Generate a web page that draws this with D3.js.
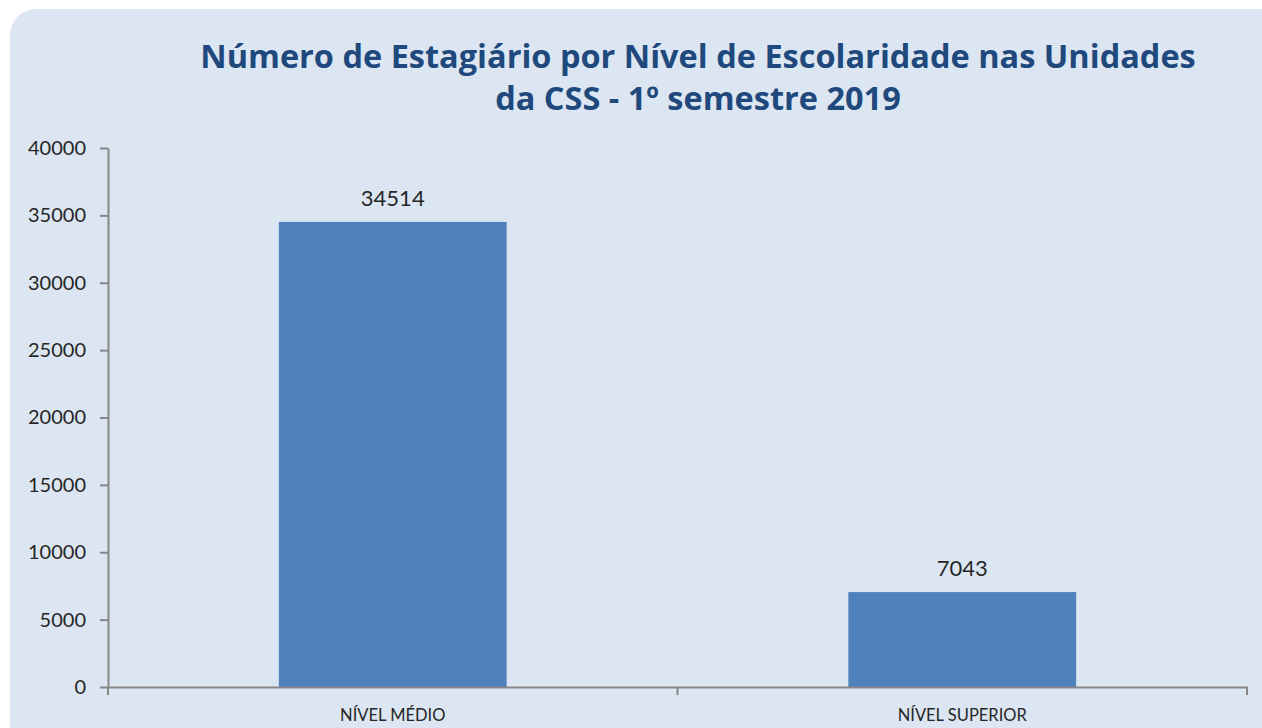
<!DOCTYPE html>
<html>
<head>
<meta charset="utf-8">
<script src="https://cdn.jsdelivr.net/npm/d3@7"></script>
<style>
  html, body { margin: 0; padding: 0; background: #ffffff; }
  svg { display: block; }
</style>
</head>
<body>
<svg id="chart"></svg>
<script>
const categories = ["NÍVEL MÉDIO", "NÍVEL SUPERIOR"];
const values = [34514, 7043];
const yTicks = [0, 5000, 10000, 15000, 20000, 25000, 30000, 35000, 40000];
const titleLines = ["Número de Estagiário por Nível de Escolaridade nas Unidades", "da CSS - 1º semestre 2019"];

const width = 1262;
const height = 728;
const plotLeft = 108, plotRight = 1247, plotTop = 148, plotBottom = 687;

const svg = d3.select("#chart")
  .attr("width", width)
  .attr("height", height);

// light blue rounded panel
svg.append("rect")
  .attr("x", 10)
  .attr("y", 9)
  .attr("width", 1280)
  .attr("height", 760)
  .attr("rx", 26)
  .style("fill", "#dce6f2");

const x = d3.scaleBand()
  .domain(categories)
  .range([plotLeft, plotRight])
  .paddingInner(0.6)
  .paddingOuter(0.3);

const y = d3.scaleLinear()
  .domain([0, 40000])
  .range([plotBottom, plotTop]);

// title
svg.append("g")
  .selectAll("text")
  .data(titleLines)
  .enter()
  .append("text")
  .attr("x", 698)
  .attr("y", (d, i) => 68 + i * 42)
  .attr("text-anchor", "middle")
  .style("font-family", "'Open Sans', sans-serif")
  .style("font-weight", "bold")
  .style("font-size", "32.5px")
  .style("fill", "#1f497d")
  .text((d) => d);

// bars
svg.append("g")
  .selectAll("rect")
  .data(values)
  .enter()
  .append("rect")
  .attr("x", (d, i) => x(categories[i]))
  .attr("y", (d) => y(d))
  .attr("width", x.bandwidth())
  .attr("height", (d) => y(0) - y(d))
  .style("fill", "#4f81bd");

// value labels
svg.append("g")
  .selectAll("text")
  .data(values)
  .enter()
  .append("text")
  .attr("x", (d, i) => x(categories[i]) + x.bandwidth() / 2)
  .attr("y", (d) => y(d) - 16)
  .attr("text-anchor", "middle")
  .style("font-family", "Lato, sans-serif")
  .style("font-size", "22px")
  .style("fill", "#262626")
  .text((d) => d);

// y axis
const yAxis = d3.axisLeft(y).tickValues(yTicks).tickFormat(d3.format("d"))
  .tickSize(8).tickSizeOuter(0).tickPadding(14);
const gy = svg.append("g")
  .attr("transform", "translate(" + plotLeft + ",0)")
  .call(yAxis);
gy.select(".domain").style("stroke", "#868686").style("stroke-width", 2);
gy.selectAll(".tick line").style("stroke", "#868686").style("stroke-width", 2);
gy.selectAll(".tick text")
  .style("font-family", "Lato, sans-serif")
  .style("font-size", "20px")
  .style("fill", "#262626");

// x axis
const xAxis = d3.axisBottom(x).tickSize(0).tickSizeOuter(0).tickPadding(22);
const gx = svg.append("g")
  .attr("transform", "translate(0," + plotBottom + ")")
  .call(xAxis);
gx.select(".domain").style("stroke", "#868686").style("stroke-width", 2);
gx.selectAll(".tick text")
  .style("font-family", "Lato, sans-serif")
  .style("font-size", "16.5px")
  .style("fill", "#262626");

// category boundary ticks
const bounds = [plotLeft].concat(categories.map((c) => x(c) - x.step() * x.paddingOuter() + x.step()));
gx.selectAll(".bound")
  .data(bounds)
  .enter()
  .append("line")
  .attr("class", "bound")
  .attr("x1", (d) => d)
  .attr("x2", (d) => d)
  .attr("y1", 0)
  .attr("y2", 8)
  .style("stroke", "#868686")
  .style("stroke-width", 2);
</script>
</body>
</html>
